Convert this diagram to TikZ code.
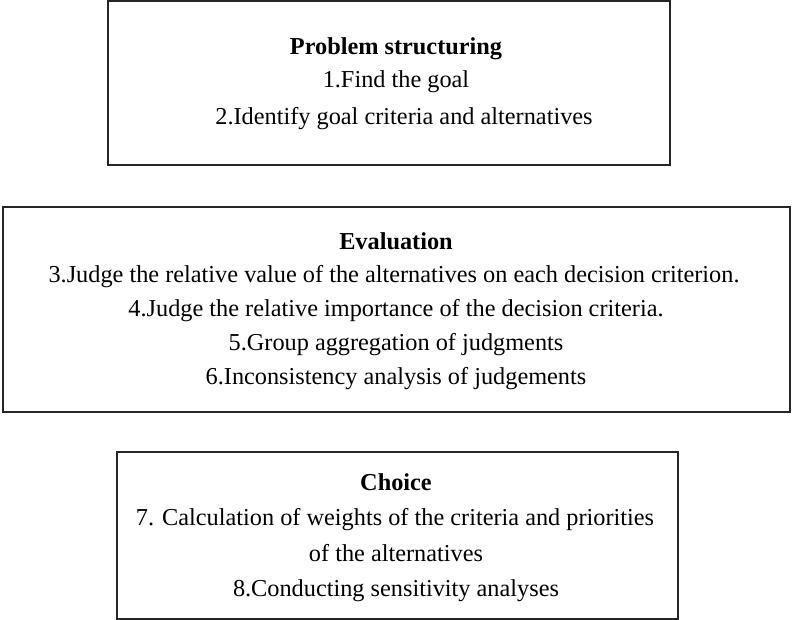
\documentclass[tikz,border=0pt]{standalone}
\usepackage{fontspec}
\setmainfont{Liberation Serif}
\begin{document}
\begin{tikzpicture}[x=1pt,y=1pt,
  box/.style={draw=black!85,line width=1.6pt,inner sep=0pt},
  txt/.style={inner sep=0pt,anchor=base,font=\fontsize{24.3}{28}\selectfont},
  ttl/.style={txt,font=\fontsize{24.3}{28}\selectfont\bfseries}]
\useasboundingbox (0,0) rectangle (792,-620);
\node[box,minimum width=562pt,minimum height=164pt] (b1) at (389,-83) {};
\node[box,minimum width=787pt,minimum height=205pt] (b2) at (396.5,-309.5) {};
\node[box,minimum width=561pt,minimum height=167pt] (b3) at (397.5,-535.5) {};
\node[ttl] (t1) at (396,-55) {Problem structuring};
\node[txt] (l1) at (396,-88) {1.Find the goal};
\node[txt] (l2) at (404,-125) {2.Identify goal criteria and alternatives};
\node[ttl] (t2) at (396,-250) {Evaluation};
\node[txt] (l3) at (394,-283) {3.Judge the relative value of the alternatives on each decision criterion.};
\node[txt] (l4) at (396,-316) {4.Judge the relative importance of the decision criteria.};
\node[txt] (l5) at (396,-350) {5.Group aggregation of judgments};
\node[txt] (l6) at (396,-384) {6.Inconsistency analysis of judgements};
\node[ttl] (t3) at (396,-490) {Choice};
\node[txt] (l7) at (395,-525) {7. Calculation of weights of the criteria and priorities};
\node[txt] (l7b) at (396,-561) {of the alternatives};
\node[txt] (l8) at (396,-596) {8.Conducting sensitivity analyses};
\end{tikzpicture}
\end{document}
